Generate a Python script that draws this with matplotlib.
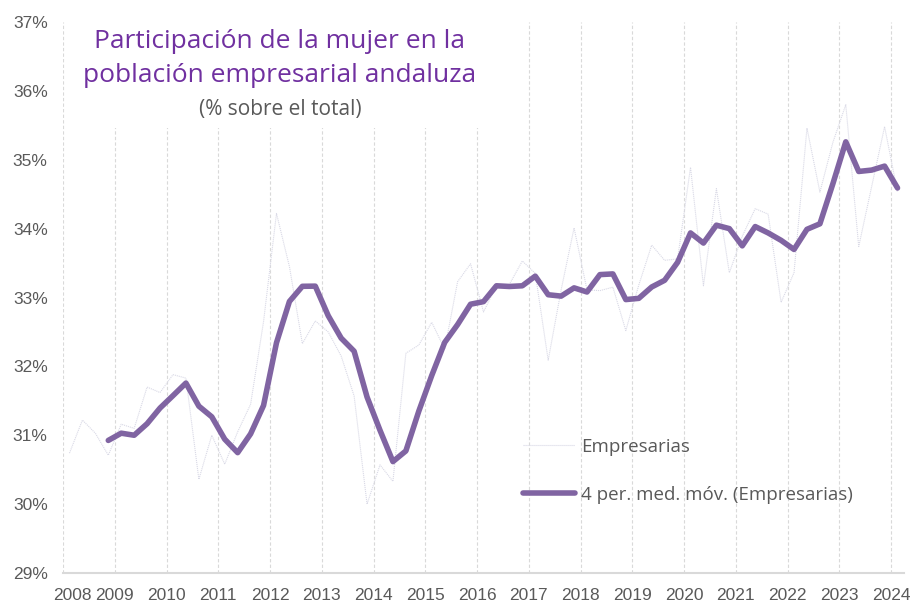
import pandas as pd
import numpy as np
import matplotlib
matplotlib.use("Agg")
import matplotlib.pyplot as plt
import matplotlib.transforms as mtransforms
from matplotlib.patches import Rectangle

# quarterly share of women among Andalusian entrepreneurs (%), 2008Q1 - 2024Q1
periods = pd.period_range("2008Q1", "2024Q1", freq="Q")
empresarias = [
    30.74, 31.22, 31.03, 30.71,   # 2008
    31.16, 31.10, 31.70, 31.62,   # 2009
    31.88, 31.83, 30.36, 31.00,   # 2010
    30.58, 31.05, 31.45, 32.65,   # 2011
    34.22, 33.45, 32.33, 32.66,   # 2012
    32.50, 32.15, 31.57, 30.00,   # 2013
    30.57, 30.33, 32.19, 32.31,   # 2014
    32.64, 32.25, 33.23, 33.49,   # 2015
    32.79, 33.17, 33.19, 33.53,   # 2016
    33.35, 32.09, 33.11, 34.01,   # 2017
    33.11, 33.10, 33.15, 32.52,   # 2018
    33.18, 33.76, 33.54, 33.56,   # 2019
    34.89, 33.17, 34.58, 33.36,   # 2020
    33.89, 34.29, 34.21, 32.93,   # 2021
    33.36, 35.46, 34.53, 35.25,   # 2022
    35.80, 33.74, 34.61, 35.48,   # 2023
    34.53,                        # 2024
]
years = list(range(2008, 2025))
yticks = list(range(29, 38))

serie = pd.Series(empresarias, index=periods)
media_movil = serie.rolling(4).mean()
x = np.array([p.year + (p.quarter - 0.5) / 4 for p in periods])

W, H = 918, 603
fig = plt.figure(figsize=(W / 100, H / 100), dpi=100)
ax = fig.add_axes([63 / W, 30 / H, (904 - 63) / W, (573 - 22) / H])

grey = "#595959"
tick_font = ["Liberation Sans Narrow", "Liberation Sans", "DejaVu Sans"]

ax.plot(x, serie.values, color="#d9d9e6", lw=0.8, ls=(0, (1, 0.8)),
        label="Empresarias", zorder=3)
ax.plot(x, media_movil.values, color="#8064a2", lw=4, solid_capstyle="round",
        solid_joinstyle="round", label="4 per. med. móv. (Empresarias)", zorder=4)

ax.set_xlim(2008, 2024.25)
ax.set_ylim(29, 37)
ax.set_xticks(years)
ax.set_xticklabels([str(y) for y in years], family=tick_font, fontsize=12.5, color=grey)
ax.set_yticks(yticks)
ax.set_yticklabels([f"{v}%" for v in yticks], family=tick_font, fontsize=12.5, color=grey)
ax.tick_params(axis="both", length=0)
ax.tick_params(axis="x", pad=11)
ax.tick_params(axis="y", pad=11)

# first year label sits slightly inside the plot
lbl = ax.get_xticklabels()[0]
lbl.set_transform(lbl.get_transform() + mtransforms.ScaledTranslation(9 / 100, 0, fig.dpi_scale_trans))

ax.grid(axis="x", color="#d9d9d9", ls=(0, (3, 2)), lw=0.8)
ax.grid(axis="y", visible=False)
for s in ["left", "top", "right"]:
    ax.spines[s].set_visible(False)
ax.spines["bottom"].set_color("#d9d9d9")
ax.spines["bottom"].set_linewidth(1.5)

# white box behind the title hides the gridlines
ax.add_patch(Rectangle((66 / W, 1 - 128 / H), (505 - 66) / W, (128 - 20) / H,
                       transform=fig.transFigure, facecolor="white", edgecolor="none", zorder=2))

fig.text(280 / W, 1 - 42 / H, "Participación de la mujer en la", ha="center", va="center",
         fontsize=19, color="#7030a0", family="Open Sans")
fig.text(280 / W, 1 - 75 / H, "población empresarial andaluza", ha="center", va="center",
         fontsize=19, color="#7030a0", family="Open Sans")
fig.text(280 / W, 1 - 109 / H, "(% sobre el total)", ha="center", va="center",
         fontsize=15, color=grey, family="Open Sans")

leg = ax.legend(loc="upper left", bbox_to_anchor=(506 / W, 1 - 421 / H),
                bbox_transform=fig.transFigure, frameon=False, handlelength=2.8,
                handletextpad=0.3, labelspacing=1.6, prop={"family": "Open Sans", "size": 13.5})
for t in leg.get_texts():
    t.set_color(grey)

fig.savefig("out.png", dpi=100)
